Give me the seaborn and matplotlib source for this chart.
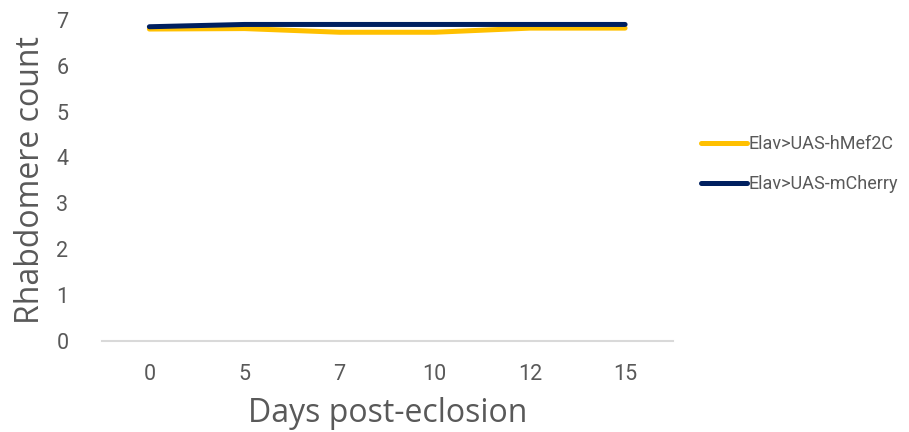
import matplotlib
matplotlib.use("Agg")
import matplotlib.pyplot as plt
import seaborn as sns
import pandas as pd

days = ["0", "5", "7", "10", "12", "15"]
hmef2c = [6.80, 6.81, 6.73, 6.73, 6.82, 6.82]
mcherry = [6.85, 6.90, 6.90, 6.90, 6.90, 6.90]
series_names = ["Elav>UAS-hMef2C", "Elav>UAS-mCherry"]
colors = ["#FFC000", "#002060"]

df = pd.DataFrame({
    "day": days * 2,
    "count": hmef2c + mcherry,
    "series": [series_names[0]] * len(days) + [series_names[1]] * len(days),
})

sns.set_theme(style="white")
plt.rcParams["font.family"] = ["Roboto", "DejaVu Sans"]

fig = plt.figure(figsize=(9.09, 4.32), dpi=100)
ax = fig.add_axes([0.112, 0.211, 0.628, 0.743])
sns.lineplot(data=df, x="day", y="count", hue="series", palette=colors,
             linewidth=3.6, ax=ax, sort=False, solid_capstyle="round")
for ln in ax.lines:
    ln.set_clip_on(False)

ax.set_xlim(-0.5, 5.5)
ax.set_ylim(0, 7)
ax.set_yticks(range(0, 8))
for s in ["top", "right", "left"]:
    ax.spines[s].set_visible(False)
ax.spines["bottom"].set_color("#D9D9D9")
ax.spines["bottom"].set_linewidth(1.5)
ax.tick_params(axis="both", length=0, labelsize=15.5, labelcolor="#595959")
ax.tick_params(axis="x", pad=17)
ax.tick_params(axis="y", pad=24)
ax.set_xlabel("Days post-eclosion", fontsize=23, color="#595959",
              family=["Open Sans", "DejaVu Sans"], labelpad=8)
ax.set_ylabel("Rhabdomere count", fontsize=23, color="#595959",
              family=["Open Sans", "DejaVu Sans"], labelpad=7)

leg = ax.legend(loc="center left", bbox_to_anchor=(1.022, 0.55), frameon=False,
                fontsize=13, handlelength=2.5, handletextpad=0.1, labelspacing=1.2)
for t in leg.get_texts():
    t.set_color("#595959")

fig.savefig("out.png", dpi=100)
